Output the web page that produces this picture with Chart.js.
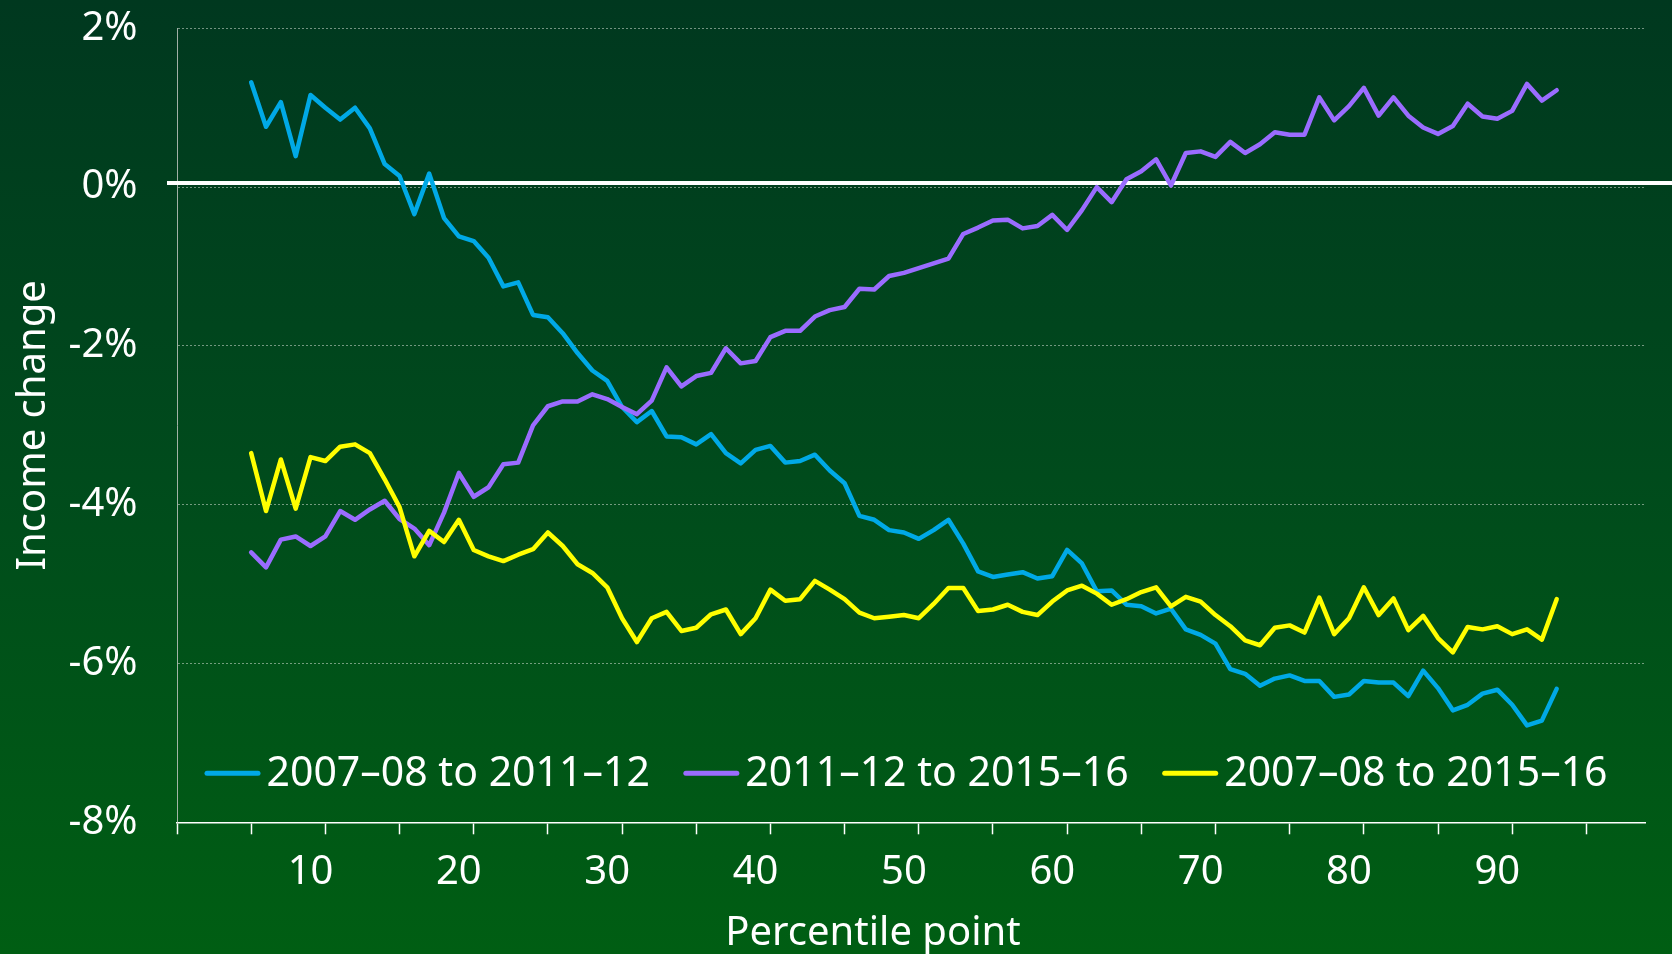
<!DOCTYPE html>
<html>
<head>
<meta charset="utf-8">
<script src="https://cdn.jsdelivr.net/npm/chart.js@4.4.0/dist/chart.umd.min.js"></script>
<style>
  html, body { margin: 0; padding: 0; }
  body {
    width: 1672px; height: 954px; overflow: hidden;
    background: linear-gradient(to bottom, #00381f 0%, #004b1c 50%, #005e13 100%);
  }
  #wrap { position: relative; width: 1672px; height: 954px; }
</style>
</head>
<body>
<div id="wrap"><canvas id="incomeChart"></canvas></div>
<script>
const percentiles = [
  6, 7, 8, 9, 10, 11, 12, 13, 14, 15,
  16, 17, 18, 19, 20, 21, 22, 23, 24, 25,
  26, 27, 28, 29, 30, 31, 32, 33, 34, 35,
  36, 37, 38, 39, 40, 41, 42, 43, 44, 45,
  46, 47, 48, 49, 50, 51, 52, 53, 54, 55,
  56, 57, 58, 59, 60, 61, 62, 63, 64, 65,
  66, 67, 68, 69, 70, 71, 72, 73, 74, 75,
  76, 77, 78, 79, 80, 81, 82, 83, 84, 85,
  86, 87, 88, 89, 90, 91, 92, 93, 94
];

// 2007–08 to 2011–12
const change0812 = [
  1.32, 0.76, 1.07, 0.39, 1.16, 1.00, 0.85, 1.00, 0.74, 0.29,
  0.14, -0.34, 0.17, -0.39, -0.62, -0.68, -0.89, -1.25, -1.20, -1.61,
  -1.64, -1.84, -2.09, -2.31, -2.44, -2.77, -2.96, -2.82, -3.14, -3.15,
  -3.24, -3.11, -3.35, -3.48, -3.31, -3.26, -3.47, -3.45, -3.37, -3.57,
  -3.73, -4.14, -4.19, -4.32, -4.35, -4.43, -4.32, -4.19, -4.49, -4.84,
  -4.91, -4.88, -4.85, -4.93, -4.90, -4.57, -4.74, -5.09, -5.08, -5.26,
  -5.28, -5.37, -5.31, -5.57, -5.64, -5.75, -6.07, -6.13, -6.28, -6.19,
  -6.15, -6.22, -6.22, -6.42, -6.39, -6.22, -6.24, -6.24, -6.41, -6.09,
  -6.31, -6.59, -6.52, -6.38, -6.33, -6.52, -6.78, -6.72, -6.32
];

// 2011–12 to 2015–16
const change1216 = [
  -4.60, -4.79, -4.44, -4.40, -4.52, -4.40, -4.08, -4.19, -4.06, -3.95,
  -4.18, -4.30, -4.51, -4.10, -3.60, -3.90, -3.78, -3.49, -3.47, -3.00,
  -2.76, -2.70, -2.70, -2.61, -2.67, -2.77, -2.86, -2.69, -2.27, -2.51,
  -2.38, -2.34, -2.03, -2.22, -2.19, -1.89, -1.81, -1.81, -1.63, -1.55,
  -1.51, -1.28, -1.29, -1.12, -1.08, -1.02, -0.96, -0.90, -0.59, -0.51,
  -0.42, -0.41, -0.52, -0.49, -0.35, -0.54, -0.29, 0.00, -0.19, 0.10,
  0.20, 0.35, 0.02, 0.43, 0.45, 0.38, 0.57, 0.43, 0.54, 0.69,
  0.66, 0.66, 1.13, 0.84, 1.02, 1.25, 0.90, 1.13, 0.90, 0.75,
  0.67, 0.77, 1.05, 0.89, 0.86, 0.96, 1.30, 1.09, 1.22
];

// 2007–08 to 2015–16
const change0816 = [
  -3.35, -4.08, -3.43, -4.05, -3.40, -3.45, -3.27, -3.24, -3.35, -3.68,
  -4.03, -4.65, -4.33, -4.47, -4.19, -4.57, -4.65, -4.71, -4.63, -4.56,
  -4.35, -4.52, -4.75, -4.86, -5.04, -5.43, -5.73, -5.43, -5.35, -5.59,
  -5.55, -5.38, -5.32, -5.63, -5.43, -5.07, -5.21, -5.19, -4.96, -5.07,
  -5.19, -5.36, -5.43, -5.41, -5.39, -5.43, -5.25, -5.05, -5.05, -5.34,
  -5.32, -5.26, -5.35, -5.39, -5.22, -5.08, -5.02, -5.12, -5.26, -5.19,
  -5.10, -5.04, -5.28, -5.16, -5.22, -5.39, -5.53, -5.71, -5.77, -5.55,
  -5.52, -5.61, -5.17, -5.63, -5.43, -5.04, -5.39, -5.18, -5.58, -5.40,
  -5.68, -5.86, -5.54, -5.57, -5.53, -5.63, -5.57, -5.70, -5.19
];

const seriesLabels = ['2007–08 to 2011–12', '2011–12 to 2015–16', '2007–08 to 2015–16'];
const seriesColors = ['#00a9e6', '#9a6cff', '#ffff00'];
const yTicks = [2, 0, -2, -4, -6, -8];
const xLabelTicks = [10, 20, 30, 40, 50, 60, 70, 80, 90];
const xMarkTicks = [1, 6, 11, 16, 21, 26, 31, 36, 41, 46, 51, 56, 61, 66, 71, 76, 81, 86, 91, 96];

const FONT = '"Noto Sans", "Open Sans", sans-serif';
Chart.defaults.font.family = FONT;
Chart.defaults.font.size = 40;
Chart.defaults.color = '#ffffff';

function toPoints(values) {
  return values.map((v, i) => ({ x: percentiles[i], y: v }));
}

// white zero line, custom legend inside the plot and the x title
const overlayPlugin = {
  id: 'overlay',
  beforeDatasetsDraw(chart) {
    const { ctx, chartArea, scales } = chart;
    const y0 = scales.y.getPixelForValue(0) - 4;
    ctx.save();
    ctx.strokeStyle = '#ffffff';
    ctx.lineWidth = 4;
    ctx.beginPath();
    ctx.moveTo(chartArea.left - 10, y0);
    ctx.lineTo(chart.width, y0);
    ctx.stroke();
    ctx.restore();
  },
  afterDraw(chart) {
    const { ctx, chartArea } = chart;
    ctx.save();
    ctx.font = '41px ' + FONT;
    ctx.textBaseline = 'alphabetic';
    ctx.textAlign = 'left';
    let x = chartArea.left + 28;
    const swatchY = chartArea.bottom - 49;
    const textY = chartArea.bottom - 36.5;
    seriesLabels.forEach((label, i) => {
      ctx.strokeStyle = seriesColors[i];
      ctx.lineWidth = 5;
      ctx.lineCap = 'round';
      ctx.beginPath();
      ctx.moveTo(x + 2, swatchY);
      ctx.lineTo(x + 53, swatchY);
      ctx.stroke();
      ctx.fillStyle = '#ffffff';
      ctx.fillText(label, x + 61.5, textY);
      x += 61.5 + ctx.measureText(label).width + 34;
    });
    ctx.font = '40px ' + FONT;
    ctx.textAlign = 'center';
    ctx.fillText('Percentile point', chartArea.left + 696, chart.height - 9);
    ctx.restore();
  }
};

const ctx = document.getElementById('incomeChart').getContext('2d');
const chart = new Chart(ctx, {
  type: 'line',
  data: {
    datasets: [
      { label: seriesLabels[0], data: toPoints(change0812), borderColor: seriesColors[0], order: 2 },
      { label: seriesLabels[1], data: toPoints(change1216), borderColor: seriesColors[1], order: 1 },
      { label: seriesLabels[2], data: toPoints(change0816), borderColor: seriesColors[2], order: 0 }
    ]
  },
  options: {
    responsive: true,
    maintainAspectRatio: false,
    animation: false,
    layout: { padding: { top: 28.3, right: 26.3, left: 0, bottom: 0 } },
    elements: {
      line: { borderWidth: 4.5, tension: 0, borderJoinStyle: 'round', borderCapStyle: 'round', fill: false },
      point: { radius: 0, hoverRadius: 0 }
    },
    plugins: {
      legend: { display: false },
      tooltip: { enabled: false }
    },
    scales: {
      x: {
        type: 'linear',
        min: 1,
        max: 100,
        afterBuildTicks: (scale) => {
          const vals = Array.from(new Set(xMarkTicks.concat(xLabelTicks))).sort((a, b) => a - b);
          scale.ticks = vals.map(v => ({ value: v }));
        },
        afterFit: (scale) => { scale.height = 131.7; },
        ticks: {
          autoSkip: false,
          maxRotation: 0,
          padding: 14,
          color: '#ffffff',
          callback: (v) => (xLabelTicks.includes(v) ? String(v) : '')
        },
        grid: {
          drawOnChartArea: false,
          drawTicks: true,
          tickLength: 12,
          tickWidth: 1.5,
          tickColor: (c) => (c.tick && xMarkTicks.includes(c.tick.value) ? '#ffffff' : 'rgba(0,0,0,0)')
        },
        border: { display: true, color: '#ffffff', width: 1.5 }
      },
      y: {
        min: -8,
        max: 2,
        afterBuildTicks: (scale) => { scale.ticks = yTicks.map(v => ({ value: v })); },
        afterFit: (scale) => { scale.width = 177; },
        ticks: {
          padding: 2,
          color: '#ffffff',
          callback: (v) => v + '%'
        },
        grid: {
          drawTicks: true,
          tickLength: 37.5,
          tickColor: 'rgba(0,0,0,0)',
          color: 'rgba(210,220,210,0.55)',
          lineWidth: 1
        },
        border: { display: true, color: 'rgba(200,205,200,0.8)', width: 1, dash: [2, 2] },
        title: {
          display: true,
          text: 'Income change',
          color: '#ffffff',
          font: { size: 40 },
          padding: { top: 10, bottom: 0 }
        }
      }
    }
  },
  plugins: [overlayPlugin]
});
</script>
</body>
</html>
